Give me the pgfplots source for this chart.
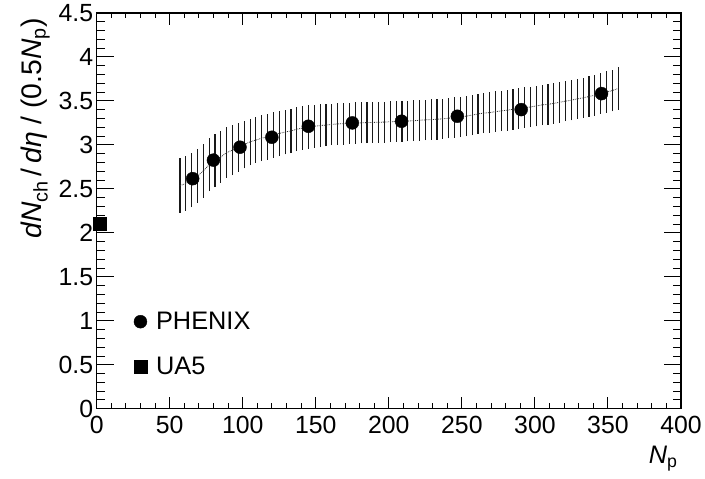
\documentclass[border=0pt]{standalone}
\usepackage{fontspec}
\setmainfont{Liberation Sans}
\usepackage{pgfplots}
\pgfplotsset{compat=1.18}
\usepackage{pgfplotstable}

\pgfplotstableread{
N lo hi
57 2.230 2.846
61 2.249 2.872
65 2.294 2.910
69 2.343 2.948
73 2.400 3.012
77 2.475 3.073
81 2.521 3.125
85 2.570 3.156
89 2.627 3.201
93 2.657 3.224
97 2.695 3.250
101 2.732 3.277
105 2.770 3.299
109 2.797 3.314
113 2.816 3.337
117 2.834 3.352
121 2.853 3.375
125 2.872 3.390
129 2.891 3.401
133 2.906 3.413
137 2.929 3.428
141 2.944 3.439
145 2.955 3.450
149 2.967 3.458
153 2.974 3.466
157 2.985 3.466
161 2.997 3.470
165 3.004 3.473
169 3.004 3.477
173 3.012 3.481
177 3.012 3.485
181 3.016 3.485
185 3.020 3.488
189 3.023 3.488
193 3.023 3.492
197 3.027 3.492
201 3.031 3.496
205 3.035 3.496
209 3.035 3.500
213 3.042 3.503
217 3.042 3.507
221 3.050 3.511
225 3.054 3.515
229 3.057 3.518
233 3.061 3.522
237 3.069 3.526
241 3.073 3.534
245 3.080 3.541
249 3.088 3.549
253 3.099 3.556
257 3.110 3.568
261 3.126 3.579
265 3.133 3.590
269 3.137 3.598
273 3.148 3.609
277 3.156 3.617
281 3.163 3.625
285 3.175 3.636
289 3.186 3.643
293 3.193 3.655
297 3.201 3.662
301 3.212 3.673
305 3.224 3.685
309 3.231 3.692
313 3.242 3.703
317 3.254 3.715
321 3.269 3.726
325 3.280 3.737
329 3.295 3.752
333 3.306 3.764
337 3.321 3.779
341 3.333 3.798
345 3.352 3.817
349 3.363 3.836
353 3.382 3.855
357 3.401 3.881
}\band

\pgfplotstableread{
N y
65.7 2.616
79.9 2.827
98.1 2.974
119.9 3.087
144.9 3.212
175.0 3.250
208.7 3.269
246.9 3.326
290.6 3.401
345.6 3.583
}\phenix

\begin{document}
\begin{tikzpicture}
\begin{axis}[
  scale only axis,
  width=586bp, height=397bp,
  xmin=0, xmax=400, ymin=0, ymax=4.5,
  xtick={0,50,...,400},
  ytick={0,0.5,1,1.5,2,2.5,3,3.5,4,4.5},
  minor x tick num=4, minor y tick num=4,
  tick align=inside,
  xtick pos=both, ytick pos=both,
  xticklabel pos=left, yticklabel pos=left,
  x tick style={/pgfplots/major tick length=12bp, /pgfplots/minor tick length=5.5bp},
  y tick style={/pgfplots/major tick length=17.5bp, /pgfplots/minor tick length=8.5bp},
  tick style={black, line width=1bp},
  axis line style={black, line width=1.3bp},
  ticklabel style={font=\fontsize{25}{30}\selectfont},
  /pgf/number format/assume math mode=true,
  xticklabel style={yshift=-4bp},
  yticklabel style={xshift=0bp, yshift=0bp},
  xlabel={\textit{N}\textsubscript{p}},
  ylabel={\textit{dN}\textsubscript{ch}\,/\,\textit{dη}\ /\ (0.5\textit{N}\textsubscript{p})},
  xlabel style={font=\fontsize{25.5}{30}\selectfont, at={(axis description cs:1,-0.1385)}, anchor=base east},
  ylabel style={font=\fontsize{28.5}{33}\selectfont, at={(axis description cs:-0.0939,0.995)}, anchor=base east},
  clip=false,
  legend style={draw=none, fill=none, at={(axis cs:23.2,1.145)}, anchor=north west,
    font=\fontsize{25.5}{30}\selectfont, row sep=22bp},
  legend cell align=left,
]
\addplot[draw=none, no markers, forget plot,
  error bars/.cd, y dir=plus, y explicit,
  error bar style={draw=black!90, line width=1.15bp}, error mark=none]
  table[x=N, y=lo, y error expr=\thisrow{hi}-\thisrow{lo}] {\band};
\addplot[forget plot, mark=none, black!80, densely dotted, line width=0.8bp]
  table[x=N, y expr=(\thisrow{lo}+\thisrow{hi})/2] {\band};
\addplot[only marks, mark=*, mark size=6.5bp, black] table[x=N, y=y] {\phenix};
\addlegendentry{\hspace{7bp}PHENIX}
\addplot[only marks, mark=square*, mark size=6.7bp, black] coordinates {(2,2.105)};
\addlegendentry{\hspace{7bp}UA5}
\end{axis}
\path ([shift={(-97bp,-70bp)}]current axis.south west) rectangle ([shift={(22bp,13bp)}]current axis.north east);
\end{tikzpicture}
\end{document}
